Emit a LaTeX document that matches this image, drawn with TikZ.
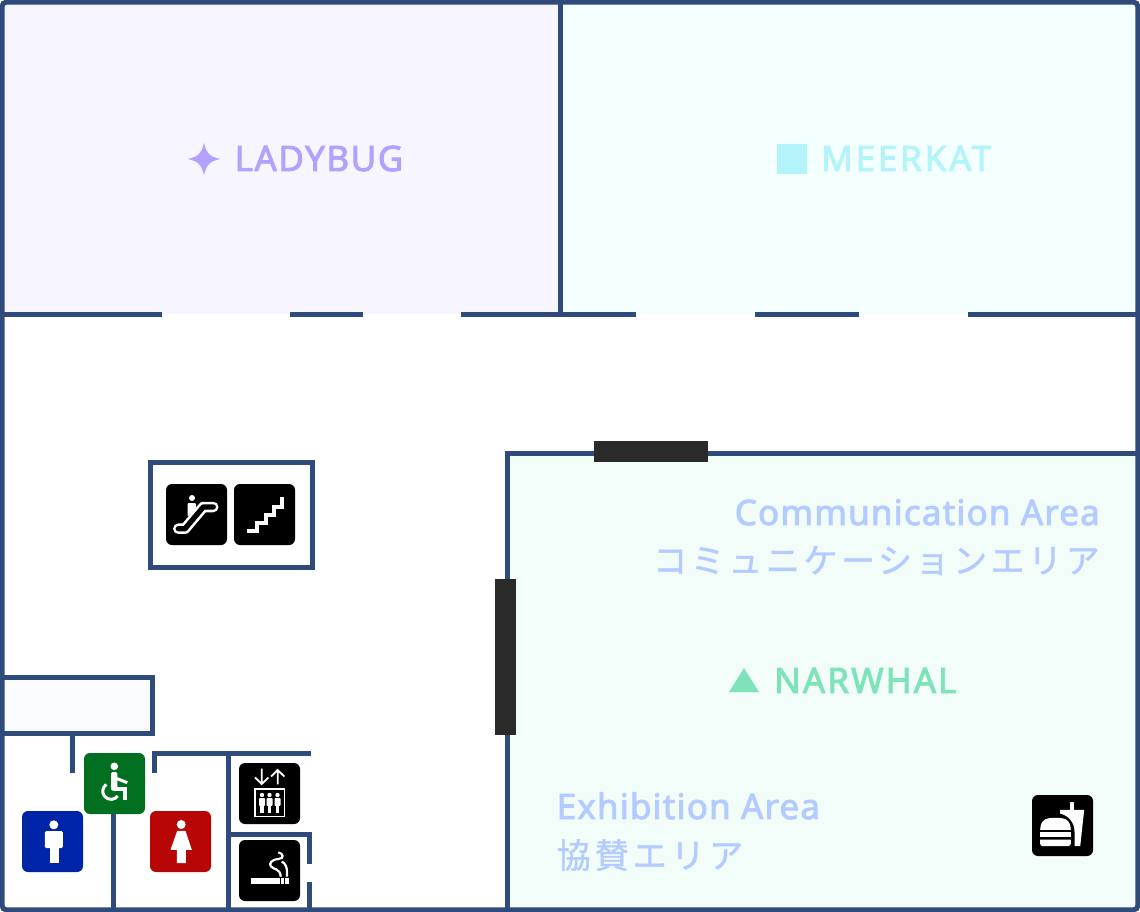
\documentclass[tikz,border=0pt]{standalone}
\usepackage{fontspec}
\setmainfont{Noto Sans}
\newfontfamily\latinfont[LetterSpace=3.3,FakeBold=2.5]{Noto Sans}
\newfontfamily\cjkfont[LetterSpace=10.5,FakeBold=1.2]{Noto Sans CJK JP}
\definecolor{wallblue}{HTML}{2F4B7C}
\definecolor{barblack}{HTML}{2A2A2A}
\definecolor{ladyfill}{HTML}{F7F5FF}
\definecolor{meerfill}{HTML}{F4FFFF}
\definecolor{narwfill}{HTML}{F2FCF9}
\definecolor{roomfill}{HTML}{FBFCFF}
\definecolor{ladytext}{HTML}{B3A0FF}
\definecolor{meertext}{HTML}{B3F4FB}
\definecolor{narwtext}{HTML}{7FE3BA}
\definecolor{areatext}{HTML}{B3CBFF}
\definecolor{menblue}{HTML}{0024A8}
\definecolor{womenred}{HTML}{B80505}
\definecolor{accessgreen}{HTML}{006F20}

\begin{document}
\begin{tikzpicture}[x=1pt,y=-1pt]
        \tikzstyle{wall}=[draw=wallblue,line width=5pt]
        \tikzstyle{bar}=[fill=barblack]
        \tikzstyle{icon}=[rectangle,rounded corners=6pt,minimum size=61pt,inner sep=0pt,fill=black]
        \tikzstyle{glyph}=[white,line width=1.8pt]
        \tikzstyle{title}=[inner sep=0pt,anchor=base west,font=\fontsize{35}{35}\selectfont\latinfont]
        \tikzstyle{areaen}=[title,areatext]
        \tikzstyle{areaja}=[inner sep=0pt,areatext,font=\fontsize{34}{34}\selectfont\cjkfont]
        \useasboundingbox (0,0) rectangle (1140,912);
        % rooms
        \fill[ladyfill] (3,3) rectangle (560,314);
        \fill[meerfill] (560,3) rectangle (1138,314);
        \fill[narwfill] (507,453) rectangle (1138,909);
        \fill[roomfill] (3,677) rectangle (152,733);
        % walls
        \draw[wall,rounded corners=4pt] (2.2,2.2) rectangle (1137.8,909.8);
        \draw[wall] (560.5,2) -- (560.5,314);
        \draw[wall] (2,314) -- (162,314) (290,314) -- (363,314) (461,314) -- (636,314)
            (755,314) -- (859,314) (968,314) -- (1138,314);
        \draw[wall] (507,909) -- (507,453) -- (1138,453);
        \draw[wall] (150,462) rectangle (312,567);
        \draw[wall] (2,677) -- (152,677) -- (152,733) -- (2,733);
        \draw[wall] (72,733) -- (72,773);
        \draw[wall] (113,810) -- (113,909);
        \draw[wall] (154,773) -- (154,753) -- (311,753);
        \draw[wall] (228,753) -- (228,909);
        \draw[wall] (228,834) -- (309,834) -- (309,864);
        \draw[wall] (309,882) -- (309,909);
        \fill[bar] (594,441) rectangle (708,462);
        \fill[bar] (495,579) rectangle (516,735);
        % icons
        \node[icon,fill=menblue] (men) at (52.5,841.5) {};
        \node[icon,fill=accessgreen] (access) at (114.5,783.5) {};
        \node[icon,fill=womenred] (women) at (180.5,841.5) {};
        \node[icon] (elevator) at (269.5,793.5) {};
        \node[icon] (smoking) at (269.5,870.5) {};
        \node[icon] (escalator) at (196.5,514.5) {};
        \node[icon] (stairs) at (264.5,514.5) {};
        \node[icon] (food) at (1062.5,825.5) {};
        \begin{scope}[shift={(men.center)}]
            \fill[white] (1.3,-16.7) circle (4.5);
            \fill[white,rounded corners=1.5pt] (-7.7,-10.5) rectangle (10.3,6.7);
            \fill[white] (-3,4) rectangle (6,21.7);
        \end{scope}
        \begin{scope}[shift={(women.center)}]
            \fill[white] (0.7,-17) circle (4.5);
            \fill[white] (-3.3,-10.7) -- (5,-10.7) -- (11.3,8.3) -- (5.3,8.3) -- (5.3,21.7) -- (-3.7,21.7)
                -- (-3.7,8.3) -- (-10,8.3) -- cycle;
        \end{scope}
        \begin{scope}[shift={(access.center)}]
            \fill[white] (-0.2,-17.2) circle (3.8);
            \draw[glyph,line width=3pt] (-3.5,7.7) ++(-125:8.2) arc[start angle=-125,end angle=-325,radius=8.2];
            \fill[white,rounded corners=1.5pt] (-3.5,-11.5) rectangle (2.8,7);
            \draw[white,line width=3pt] (1,-5.5) -- (12.8,-0.8);
            \draw[white,line width=3.6pt] (-1,5.2) -- (10.2,5.2) -- (10.2,16.5);
        \end{scope}
        \begin{scope}[shift={(elevator.center)}]
            \draw[glyph,line width=1.5pt] (-14.5,-4.5) rectangle (14.8,23.2);
            \draw[glyph] (-7.8,-25) -- (-7.8,-10) (-14.5,-16) -- (-7.8,-9.5) -- (-1.1,-16);
            \draw[glyph] (8.2,-9.2) -- (8.2,-23) (1.6,-17) -- (8.2,-23.5) -- (14.8,-17);
            \foreach \px in {-7.5,0,8} {
                \fill[white] (\px,1.5) circle (2.2);
                \fill[white,rounded corners=0.8pt] (\px-3,4.5) rectangle (\px+3,12.5);
                \fill[white] (\px-1.7,11) rectangle (\px+1.7,19.8);
            }
        \end{scope}
        \begin{scope}[shift={(smoking.center)}]
            \fill[white] (-18.7,7.7) rectangle (10,13.3);
            \fill[white] (11.7,7.7) rectangle (14,13.3);
            \fill[white] (15.7,7.7) rectangle (19,13.3);
            \draw[glyph,line width=2.2pt] (8.8,-18.2) .. controls (14,-17) and (15,-12) .. (9,-11.5)
                .. controls (2,-11) and (-1,-7) .. (1.5,-4) .. controls (4,-1) and (11,-2) .. (11.2,6.2);
            \draw[glyph,line width=2.2pt] (12.2,-9) .. controls (16,-7) and (18,-4) .. (17.4,6.2);
        \end{scope}
        \begin{scope}[shift={(escalator.center)}]
            \draw[white,line width=10.5pt,line cap=round,line join=round] (-18.2,14.2) -- (-11.5,14.2) -- (6.8,-7.5) -- (16.8,-7.5);
            \draw[black,line width=5.3pt,line cap=round,line join=round] (-18.2,14.2) -- (-11.5,14.2) -- (6.8,-7.5) -- (16.8,-7.5);
            \fill[white] (-4.5,-16.5) circle (3);
            \fill[white,rounded corners=1pt] (-8.8,-11.5) -- (-0.5,-11.5) -- (-0.5,-4.8) -- (-8.8,2) -- cycle;
        \end{scope}
        \begin{scope}[shift={(stairs.center)}]
            \draw[white,line width=4pt] (-17.3,16.8) -- (-7.7,16.8) -- (-7.7,8.5) -- (1.3,8.5) -- (1.3,0.2)
                -- (9.7,0.2) -- (9.7,-7.5) -- (17.3,-7.5) -- (17.3,-17.2);
        \end{scope}
        \begin{scope}[shift={(food.center)}]
            \fill[white] (7.7,-23.3) rectangle (11.7,-15);
            \fill[white] (-2.3,-15.7) -- (21.7,-15.7) -- (17.7,20.7) -- (12,20.7) -- (12,6)
                .. controls (12,-3) and (6,-10) .. (-2.3,-12) -- cycle;
            \fill[white] (-22.3,4.3) .. controls (-22,-7) and (-15,-7.7) .. (-7,-7.7)
                .. controls (1,-7.7) and (8,-7) .. (8.3,4.3) -- cycle;
            \fill[white] (-22.3,6.7) rectangle (8.3,11);
            \fill[white] (-22.3,14) -- (8.3,14) -- (8.3,18) arc[start angle=0,end angle=90,radius=2.5] -- (-19.8,20.7)
                arc[start angle=90,end angle=180,radius=2.5] -- cycle;
        \end{scope}
        % labels
        \fill[ladytext] (204,142.5) .. controls (206,153) and (210,157) .. (220.5,159)
            .. controls (210,161) and (206,165) .. (204,175.5)
            .. controls (202,165) and (198,161) .. (187.5,159)
            .. controls (198,157) and (202,153) .. (204,142.5) -- cycle;
        \node[title,ladytext] (ladybug) at (234.5,171) {\addfontfeature{LetterSpace=4.3}LADYBUG};
        \fill[meertext] (777,144) rectangle (807,174);
        \node[title,meertext] (meerkat) at (821,171) {\addfontfeature{LetterSpace=7.9}MEERKAT};
        \fill[narwtext] (729,692) -- (759,692) -- (744,668) -- cycle;
        \node[title,narwtext] (narwhal) at (774,693) {\addfontfeature{LetterSpace=5.9}NARWHAL};
        \node[areaen,anchor=base east] (commen) at (1100,525) {Communication Area};
        \node[areaja,anchor=base east] (commja) at (1100,573) {コミュニケーションエリア};
        \node[areaen] (exhen) at (556.5,819) {Exhibition Area};
        \node[areaja,anchor=base west] (exhja) at (556.5,868) {\addfontfeature{LetterSpace=12}協賛エリア};
\end{tikzpicture}
\end{document}
